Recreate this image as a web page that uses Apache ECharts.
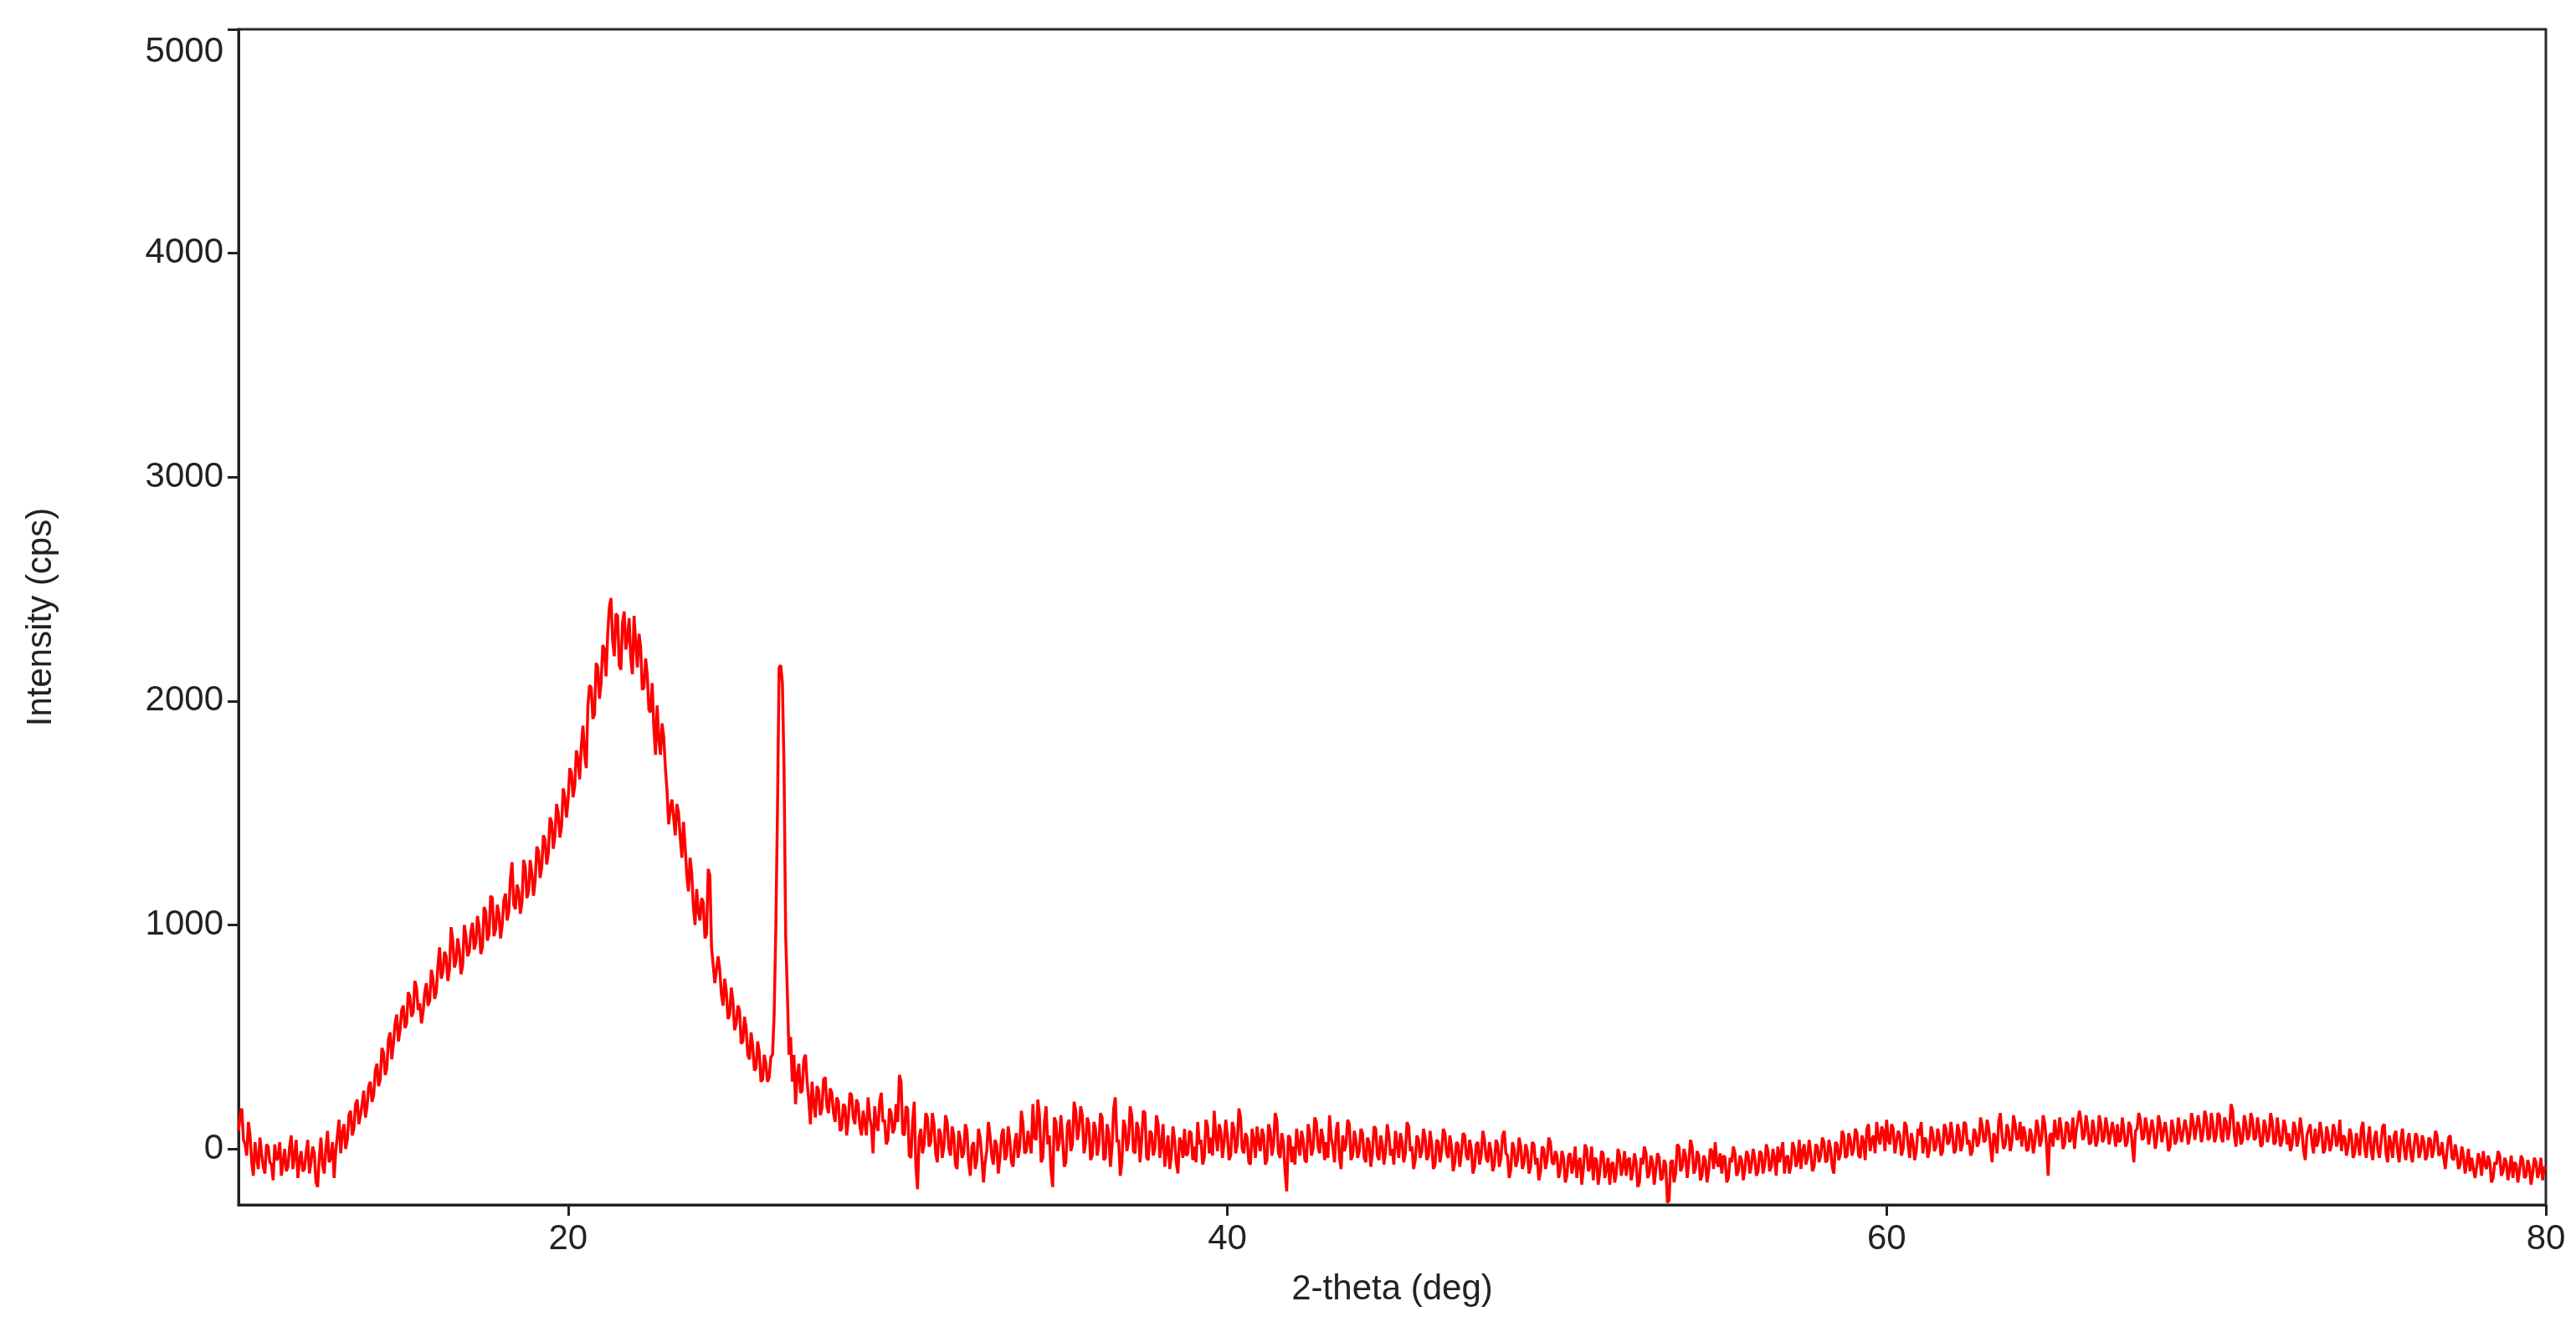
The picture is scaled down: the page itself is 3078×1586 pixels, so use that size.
<!DOCTYPE html>
<html>
<head>
<meta charset="utf-8">
<script src="https://cdn.jsdelivr.net/npm/echarts@6/dist/echarts.min.js"></script>
<style>
  html, body { margin: 0; padding: 0; background: #ffffff; }
  #chart { width: 3078px; height: 1586px; }
</style>
</head>
<body>
<div id="chart"></div>
<script>
// 2-theta grid: first point and step (deg)
const X_START = 10;
const X_STEP = 0.05;

const i10_20 = [
  80,150,180,40,20,-30,120,60,-60,-120,30,-40,-90,50,-20,-80,-110,20,10,-60,
  -70,-140,20,-50,-40,30,-120,-60,0,-100,-80,10,60,-90,-30,40,-130,-50,-10,-100,
  -90,-20,40,-110,-60,10,-20,-150,-170,-40,50,-70,-110,0,80,-60,-40,30,-130,-10,
  60,130,-20,70,110,0,40,150,170,60,90,200,220,110,150,200,260,140,190,280,
  300,210,240,350,380,280,310,450,430,330,360,490,520,400,470,560,600,480,530,620,
  640,540,560,700,680,590,610,750,720,620,650,560,610,700,740,640,660,800,760,670,
  700,820,900,760,790,880,860,750,800,990,930,810,840,940,890,780,820,1000,950,860,
  880,970,1010,890,920,1040,990,870,900,1080,1060,930,960,1130,1120,950,980,1090,1050,940,
  1000,1110,1140,1020,1060,1210,1280,1090,1070,1180,1150,1050,1100,1290,1260,1120,1150,1290,1230,1130,
  1200,1350,1330,1210,1260,1400,1380,1270,1320,1480,1460,1340,1400,1540,1500,1390,1440,1610,1570,1480
];
const i20_30 = [
  1560,1700,1680,1570,1620,1780,1740,1650,1800,1890,1760,1700,1980,2070,2060,1920,1940,2170,2150,2010,
  2080,2250,2230,2110,2300,2420,2460,2270,2200,2390,2380,2160,2140,2350,2400,2230,2280,2370,2190,2120,
  2380,2260,2150,2300,2240,2050,2060,2190,2120,1960,1950,2080,1880,1760,1980,1830,1760,1900,1840,1700,
  1600,1450,1520,1560,1480,1400,1540,1500,1390,1300,1460,1350,1220,1150,1300,1230,1080,1000,1160,1060,
  1020,1120,1100,940,960,1250,1220,900,820,740,740,860,800,690,640,760,700,580,600,720,
  660,530,560,640,620,470,480,590,540,420,400,520,460,350,360,480,430,300,310,420,
  380,300,320,410,420,600,980,1500,2150,2160,2080,1700,950,700,420,500,300,420,200,330,
  380,250,260,400,420,300,220,110,300,200,140,280,260,150,180,310,320,190,160,270,
  250,160,120,230,210,80,90,200,190,60,130,250,240,140,110,220,200,100,60,170,
  170,60,230,140,100,-20,190,110,80,210,250,120,130,20,40,180,160,70,90,200
];
const i30_40 = [
  120,330,300,70,60,190,180,-30,-40,120,210,-80,-180,50,90,-20,20,160,140,10,
  30,160,110,-20,-60,90,70,-40,10,150,120,0,-30,100,60,-70,-90,80,40,-40,
  -20,110,80,-60,-120,10,30,-90,-50,90,50,-40,-150,-60,-10,120,60,-30,-70,40,
  20,-110,-40,60,90,-50,-30,100,40,-60,-80,30,70,-40,10,170,110,-20,-10,80,
  80,-20,200,50,40,220,150,-60,-40,120,190,20,60,-100,-170,140,120,-10,30,150,
  50,-80,-60,110,130,-10,20,210,170,40,90,190,150,-20,30,140,110,-50,-30,120,
  90,-30,20,160,140,-50,-40,110,70,-80,10,180,230,30,40,-120,-60,130,100,-10,
  30,190,150,-10,-20,120,90,-60,40,170,160,-40,-50,80,70,-30,0,150,110,-40,
  20,110,-80,-10,60,-90,-30,100,40,-60,-110,50,30,-40,90,-30,-20,80,70,-50,
  10,-60,120,20,40,-70,-40,130,100,-20,50,-30,170,60,-10,110,80,-40,30,130
];
const i40_50 = [
  60,-50,-30,120,90,-20,20,180,140,0,-20,70,50,-60,-70,90,40,-40,100,30,
  -10,90,60,-70,-50,110,80,-30,20,160,130,-20,-40,70,30,-100,-190,60,50,-60,
  10,-70,90,20,-30,80,40,-50,-60,110,70,-30,0,140,120,10,-20,90,50,-50,
  30,-40,150,50,10,-60,80,120,-40,-90,60,-10,20,130,110,-50,-30,80,40,-40,
  -10,90,70,-40,-60,50,30,-80,-20,100,90,-30,-50,60,20,-70,-10,110,60,-30,
  0,-70,80,20,-40,70,30,-60,-20,120,100,-10,10,-90,-50,60,40,-40,-10,90,
  50,-50,-30,80,20,-90,-70,40,30,-60,-10,90,70,-20,-40,60,10,-100,-60,30,
  20,-80,-20,70,60,-30,-50,40,0,-110,-80,20,30,-70,-30,80,40,-40,-60,30,
  -10,-100,-70,40,20,-80,-40,60,80,-20,-30,-130,-90,30,0,-80,-50,50,10,-90,
  -60,20,-10,-110,-80,30,20,-70,-40,-140,-100,10,0,-90,-50,50,30,-60,-70,-10
];
const i50_60 = [
  -30,-130,-90,-10,-40,-150,-120,-30,-20,-110,-70,10,-130,-60,-40,-160,-90,20,0,-100,
  -80,10,-140,-40,-50,-160,-100,-10,-20,-130,-90,-40,-160,-70,-60,-150,-110,0,-30,-120,
  -80,-10,-120,-50,-40,-140,-100,-20,-60,-170,-150,-40,-70,10,-20,-130,-110,-30,-60,-160,
  -90,-20,-40,-140,-130,-50,-70,-240,-230,-60,-50,-150,-110,20,10,-100,-80,0,-30,-130,
  -60,40,10,-110,-90,-10,-30,-140,-120,-30,-50,-150,-100,0,-10,-90,30,-60,-80,-20,
  -110,-30,-40,-150,-130,-40,-60,10,-20,-120,-100,-30,-50,-140,-90,-10,-30,-110,-70,0,
  -40,-120,-100,-10,-20,-110,-70,20,-10,-100,-80,0,-40,-120,10,-60,-60,30,-110,-40,
  -30,-110,-70,30,0,-80,-50,40,-90,-10,20,-70,-40,40,-20,-100,-80,20,10,-60,
  -30,50,30,-60,-50,40,0,-80,-110,30,20,-50,-20,80,60,-40,-30,70,40,-30,
  0,90,70,-30,-40,60,30,-50,90,110,-10,40,60,-20,120,50,20,100,80,-10
];
const i60_70 = [
  130,40,20,110,90,-20,-20,80,60,-30,0,120,100,20,-40,70,30,-50,-10,90,
  60,120,-20,50,40,-40,0,100,70,-10,10,90,50,-30,-10,110,90,20,30,120,
  60,-20,0,110,80,-10,20,120,110,20,40,-30,-10,90,70,10,30,140,100,30,
  40,130,90,10,-60,70,50,-20,120,160,60,0,20,110,80,-10,30,150,110,40,
  50,120,10,100,70,-10,0,90,60,-20,30,130,90,10,40,150,110,20,-120,60,
  70,10,130,60,40,140,90,0,20,120,110,30,50,140,0,80,80,170,120,40,
  60,150,100,20,30,130,80,10,40,150,110,30,50,140,90,20,20,120,70,10,
  110,30,40,140,80,10,30,120,100,20,-60,80,90,160,130,40,50,140,100,20,
  20,130,80,0,50,150,110,30,30,120,70,-10,10,130,90,20,40,140,80,30,
  30,130,90,20,60,160,120,40,40,150,100,30,70,170,140,40,50,160,110,30
];
const i70_80 = [
  60,160,150,50,30,140,120,40,80,200,170,60,10,120,90,20,40,150,110,40,
  60,160,130,40,50,140,90,10,20,130,100,30,60,160,120,20,30,140,80,10,
  40,130,100,20,70,-10,20,120,90,10,50,140,80,-10,-50,60,60,110,30,-20,
  90,10,40,120,70,-20,0,100,60,-10,20,110,80,10,40,130,-10,60,50,-30,
  10,90,60,-40,-20,70,30,-30,90,120,10,-40,40,100,-10,-50,50,80,0,-40,
  30,100,110,-20,-60,60,20,-40,60,80,-10,-60,40,90,0,-50,30,70,-20,-60,
  10,70,50,-40,-10,60,30,-50,-30,50,40,-40,0,80,60,-30,-20,30,-40,-90,
  -10,50,60,-40,-50,20,-20,-90,-70,10,-30,-110,-60,0,-100,-40,-40,-130,-80,-20,
  -50,-120,-10,-70,-90,-30,-60,-150,-130,-60,-70,-10,-30,-120,-100,-40,-60,-140,-90,-30,
  -130,-60,-70,-150,-100,-30,-50,-130,-120,-50,-80,-160,-110,-40,-60,-130,-100,-40,-140,-80,
  -90
];

// Axis tick labels
const xTicks = [20, 40, 60, 80];
const yTicks = [0, 1000, 2000, 3000, 4000, 5000];

const intensity = [].concat(i10_20, i20_30, i30_40, i40_50, i50_60, i60_70, i70_80);
const points = intensity.map((v, i) => [Number((X_START + i * X_STEP).toFixed(2)), v]);

const FONT = '"Liberation Sans", Arial, sans-serif';
const TEXT = '#222222';
const AXIS = '#222222';

const chart = echarts.init(document.getElementById('chart'), null, { renderer: 'canvas' });
chart.setOption({
  animation: false,
  backgroundColor: '#ffffff',
  grid: {
    left: 285, right: 36, top: 35, bottom: 146,
    show: true, borderColor: '#2a2a2a', borderWidth: 3,
    containLabel: false, outerBoundsMode: 'none'
  },
  xAxis: {
    type: 'value', min: 10, max: 80,
    name: '2-theta (deg)', nameLocation: 'middle', nameGap: 80,
    nameTextStyle: { fontFamily: FONT, fontSize: 42, color: TEXT },
    axisLine: { show: true, onZero: false, lineStyle: { color: AXIS, width: 3 } },
    axisTick: { show: true, inside: false, length: 13, lineStyle: { color: AXIS, width: 3 }, customValues: xTicks },
    axisLabel: { fontFamily: FONT, fontSize: 42, color: TEXT, margin: 20, customValues: xTicks },
    splitLine: { show: false }
  },
  yAxis: {
    type: 'value', min: -250, max: 5000,
    name: 'Intensity (cps)', nameLocation: 'middle', nameGap: 215, nameRotate: 90,
    nameTextStyle: { fontFamily: FONT, fontSize: 42, color: TEXT },
    axisLine: { show: true, onZero: false, lineStyle: { color: AXIS, width: 3 } },
    axisTick: { show: true, inside: false, length: 13, lineStyle: { color: AXIS, width: 3 }, customValues: yTicks },
    axisLabel: {
      fontFamily: FONT, fontSize: 42, color: TEXT, margin: 18, customValues: yTicks,
      formatter: (v) => (v === 5000 ? '{top|' + v + '}' : '{n|' + v + '}'),
      rich: {
        n: { fontFamily: FONT, fontSize: 42, color: TEXT },
        top: { fontFamily: FONT, fontSize: 42, color: TEXT, padding: [54, 0, 0, 0] }
      }
    },
    splitLine: { show: false }
  },
  series: [{
    type: 'line',
    data: points,
    showSymbol: false,
    symbol: 'none',
    sampling: null,
    lineStyle: { color: '#ff0000', width: 3.5 },
    itemStyle: { color: '#ff0000' },
    clip: true
  }]
});
</script>
</body>
</html>
